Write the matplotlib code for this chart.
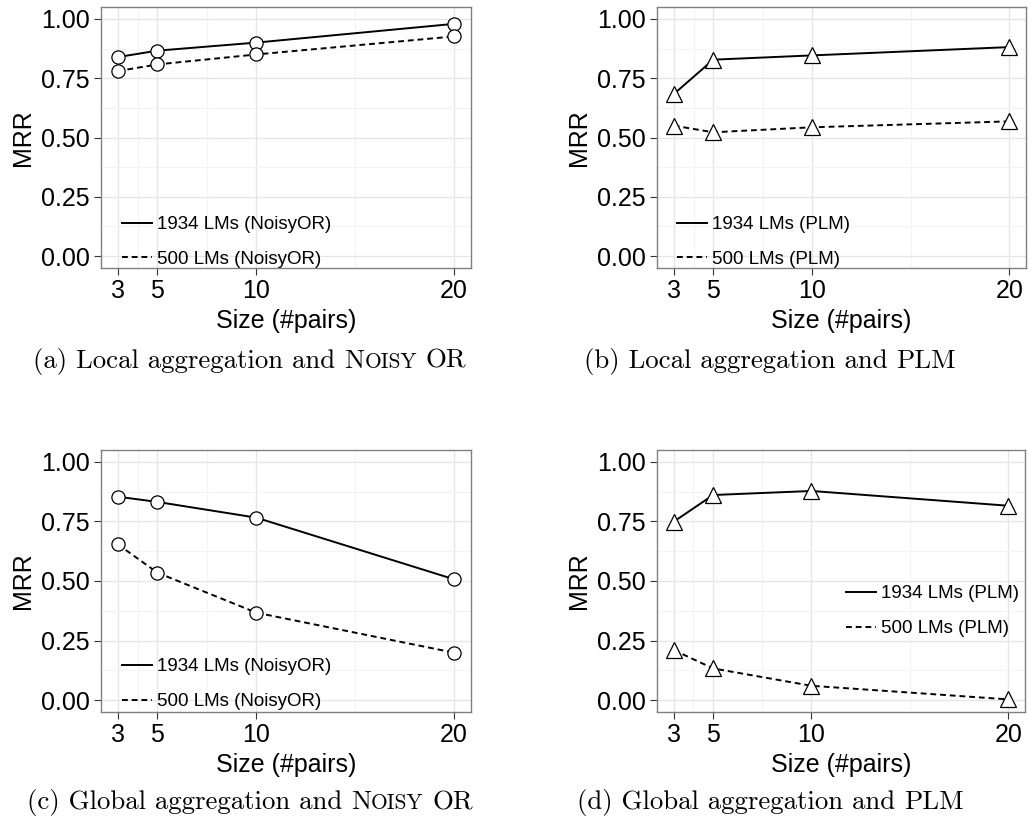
import matplotlib
matplotlib.use('Agg')
import matplotlib.pyplot as plt

# data
sizes = [3, 5, 10, 20]
local_noisyor_1934 = [0.839, 0.866, 0.900, 0.979]
local_noisyor_500 = [0.780, 0.808, 0.850, 0.926]
local_plm_1934 = [0.683, 0.828, 0.846, 0.881]
local_plm_500 = [0.550, 0.522, 0.543, 0.568]
global_noisyor_1934 = [0.854, 0.832, 0.766, 0.507]
global_noisyor_500 = [0.654, 0.535, 0.367, 0.199]
global_plm_1934 = [0.749, 0.861, 0.878, 0.816]
global_plm_500 = [0.210, 0.133, 0.060, 0.003]

y_ticks = [0.0, 0.25, 0.5, 0.75, 1.0]
y_tick_labels = ['0.00', '0.25', '0.50', '0.75', '1.00']
x_minor = [4, 7.5, 15]
y_minor = [0.125, 0.375, 0.625, 0.875]

W, H = 1030, 824
SANS = 'Liberation Sans'
SERIF = 'cmr10'

plt.rcParams['font.family'] = SANS

fig = plt.figure(figsize=(W / 100, H / 100), dpi=100)


def px_rect(l, t, r, b):
    return [l / W, 1 - b / H, (r - l) / W, (b - t) / H]


# (rect, solid series, dashed series, marker, method, legend anchor, caption)
panels = [
    (px_rect(101, 7, 471, 268), local_noisyor_1934, local_noisyor_500, 'o',
     'NoisyOR', (0.056, 0.0), ('(a) Local aggregation and', True)),
    (px_rect(657, 7, 1026, 268), local_plm_1934, local_plm_500, '^',
     'PLM', (0.053, 0.0), ('(b) Local aggregation and', False)),
    (px_rect(101, 450, 471, 712), global_noisyor_1934, global_noisyor_500, 'o',
     'NoisyOR', (0.056, 0.006), ('(c) Global aggregation and', True)),
    (px_rect(657, 450, 1025, 712), global_plm_1934, global_plm_500, '^',
     'PLM', (0.513, 0.285), ('(d) Global aggregation and', False)),
]

caption_base = [368, 368, 809, 809]
caption_cx = [250, 770, 250, 770]

for (rect, s1934, s500, mk, method, anchor, cap) in panels:
    ax = fig.add_axes(rect)
    ax.set_xlim(2.15, 20.85)
    ax.set_ylim(-0.05, 1.05)
    ax.set_xticks(sizes)
    ax.set_xticklabels([str(s) for s in sizes])
    ax.set_yticks(y_ticks)
    ax.set_yticklabels(y_tick_labels)
    ax.set_xticks(x_minor, minor=True)
    ax.set_yticks(y_minor, minor=True)
    ax.tick_params(which='major', length=5, width=0.8, color='#333333',
                   labelsize=18, labelcolor='black', pad=3)
    ax.tick_params(which='minor', length=0)
    ax.grid(which='major', color='#e6e6e6', lw=1.0)
    ax.grid(which='minor', color='#f4f4f4', lw=0.8)
    ax.set_axisbelow(True)
    for sp in ax.spines.values():
        sp.set_color('#808080')
        sp.set_linewidth(1.0)

    ms = 9.5 if mk == 'o' else 12
    ax.plot(sizes, s1934, '-', color='black', lw=1.4, zorder=3,
            label='1934 LMs (%s)' % method)
    ax.plot(sizes, s500, color='black', lw=1.4, dashes=(3, 2), zorder=3,
            label='500 LMs (%s)' % method)
    ax.plot(sizes, s1934, ls='none', marker=mk, ms=ms, mfc='white',
            mec='black', mew=0.9, zorder=4)
    ax.plot(sizes, s500, ls='none', marker=mk, ms=ms, mfc='white',
            mec='black', mew=0.9, zorder=4)

    ax.set_xlabel('Size (#pairs)', fontsize=18, labelpad=4)
    ax.set_ylabel('MRR', fontsize=18, labelpad=4)

    ax.legend(loc='lower left', bbox_to_anchor=anchor, frameon=False,
              fontsize=13.5, handlelength=1.6, handletextpad=0.3,
              labelspacing=0.95, borderpad=0, borderaxespad=0)

# captions in Computer Modern, with "Noisy" set in small caps
fig.canvas.draw()
renderer = fig.canvas.get_renderer()


def text_width(s, size):
    t = fig.text(0, 0, s, fontsize=size, family=SERIF)
    w = t.get_window_extent(renderer).width
    t.remove()
    return w


cap_size = 19.3
sc_size = cap_size * 0.8
space = text_width('x x', cap_size) - text_width('xx', cap_size)

for (panel, base, cx) in zip(panels, caption_base, caption_cx):
    head, noisy = panel[6]
    if noisy:
        parts = [(head, cap_size), (None, space), ('N', cap_size),
                 ('OISY', sc_size), (None, space), ('OR', cap_size)]
    else:
        parts = [(head, cap_size), (None, space), ('PLM', cap_size)]
    widths = [s if txt is None else text_width(txt, s) for txt, s in parts]
    x = cx - sum(widths) / 2
    for (txt, s), w in zip(parts, widths):
        if txt is not None:
            fig.text(x / W, 1 - base / H, txt, fontsize=s, family=SERIF,
                     va='baseline', ha='left')
        x += w

fig.savefig('out.png', dpi=100, facecolor='white')
